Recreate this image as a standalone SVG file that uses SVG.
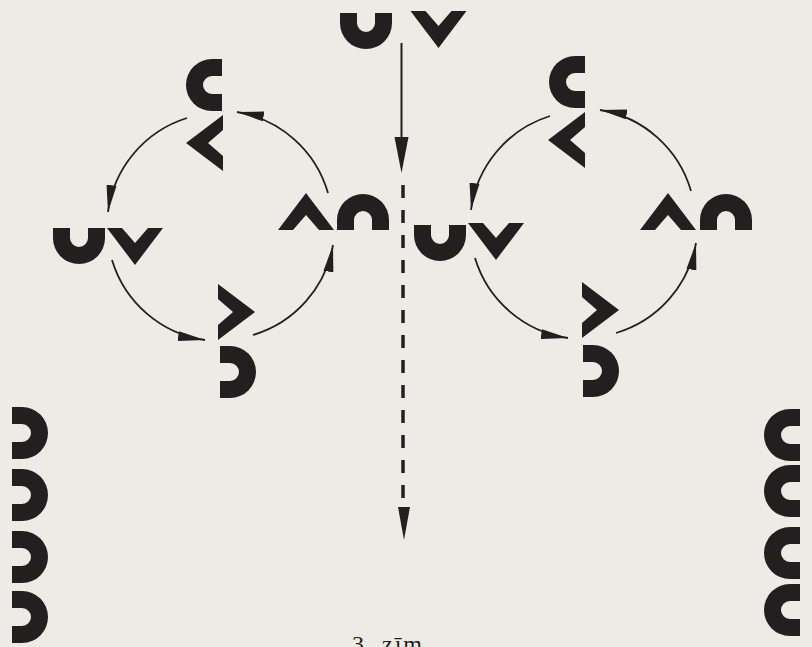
<svg xmlns="http://www.w3.org/2000/svg" width="812" height="647" viewBox="0 0 812 647">
<style>
.ink{fill:#231f20}
.arc{fill:none;stroke:#231f20;stroke-width:1.8}
.cap{font-family:"Liberation Serif","DejaVu Serif",serif;font-size:24px;fill:#231f20;letter-spacing:2px}
</style>
<defs>
<path id="u" d="M-26,-10 V0 A26,26 0 0 0 26,0 V-10 H9 V0 A9,9 0 0 1 -9,0 V-10 Z"/>
<path id="v" d="M-28,0 H-13 L0,15 L13,0 H28 L0,37 Z"/>
<marker id="ah" markerUnits="userSpaceOnUse" markerWidth="28" markerHeight="12" viewBox="0 -6 28 12" refX="27" refY="0" orient="auto">
<path d="M0,-5 L27,0 L0,5 Z" fill="#231f20"/>
</marker>
</defs>
<rect width="812" height="647" fill="#ecebe5"/>

<g id="top-u" class="ink"><use href="#u" transform="translate(366,23)"/></g>
<g id="top-v" class="ink"><use href="#v" transform="translate(438.5,11)"/></g>

<g id="l-left-u" class="ink"><use href="#u" transform="translate(79,238)"/></g>
<g id="l-left-v" class="ink"><use href="#v" transform="translate(135,228)"/></g>
<g id="l-top-c" class="ink"><use href="#u" transform="translate(212,85) rotate(90)"/></g>
<g id="l-top-lt" class="ink"><use href="#v" transform="translate(223,143) rotate(90)"/></g>
<g id="l-right-caret" class="ink"><use href="#v" transform="translate(306,230) rotate(180)"/></g>
<g id="l-right-n" class="ink"><use href="#u" transform="translate(363,220) rotate(180)"/></g>
<g id="l-bottom-gt" class="ink"><use href="#v" transform="translate(218,312) rotate(-90)"/></g>
<g id="l-bottom-d" class="ink"><use href="#u" transform="translate(230,372) rotate(-90)"/></g>

<g id="r-left-u" class="ink"><use href="#u" transform="translate(440,235)"/></g>
<g id="r-left-v" class="ink"><use href="#v" transform="translate(496,223)"/></g>
<g id="r-top-c" class="ink"><use href="#u" transform="translate(575,82) rotate(90)"/></g>
<g id="r-top-lt" class="ink"><use href="#v" transform="translate(585,140) rotate(90)"/></g>
<g id="r-right-caret" class="ink"><use href="#v" transform="translate(668,230) rotate(180)"/></g>
<g id="r-right-n" class="ink"><use href="#u" transform="translate(726,220) rotate(180)"/></g>
<g id="r-bottom-gt" class="ink"><use href="#v" transform="translate(582,310) rotate(-90)"/></g>
<g id="r-bottom-d" class="ink"><use href="#u" transform="translate(593,371) rotate(-90)"/></g>

<g id="left-column" class="ink">
<use href="#u" transform="translate(22,433) rotate(-90)"/>
<use href="#u" transform="translate(22,495) rotate(-90)"/>
<use href="#u" transform="translate(22,557) rotate(-90)"/>
<use href="#u" transform="translate(22,617) rotate(-90)"/>
</g>
<g id="right-column" class="ink">
<use href="#u" transform="translate(790,435) rotate(90)"/>
<use href="#u" transform="translate(790,491) rotate(90)"/>
<use href="#u" transform="translate(790,553) rotate(90)"/>
<use href="#u" transform="translate(790,610) rotate(90)"/>
</g>

<g id="connectors">
<path class="arc" marker-end="url(#ah)" d="M187,118 A114,114 0 0 0 108,212"/>
<path class="arc" marker-end="url(#ah)" d="M112,260 A114,114 0 0 0 205,340"/>
<path class="arc" marker-end="url(#ah)" d="M253,335 A114,114 0 0 0 333,245"/>
<path class="arc" marker-end="url(#ah)" d="M328,193 A114,114 0 0 0 237,112"/>
<path class="arc" marker-end="url(#ah)" d="M550,116 A114,114 0 0 0 471,210"/>
<path class="arc" marker-end="url(#ah)" d="M475,258 A114,114 0 0 0 568,338"/>
<path class="arc" marker-end="url(#ah)" d="M616,333 A114,114 0 0 0 696,243"/>
<path class="arc" marker-end="url(#ah)" d="M691,191 A114,114 0 0 0 600,110"/>
<line x1="401.5" y1="43" x2="401.5" y2="140" stroke="#231f20" stroke-width="2"/>
<path class="ink" d="M394.5,137 L408.5,137 L401.5,173 Z"/>
<line x1="403" y1="185" x2="403" y2="498" stroke="#231f20" stroke-width="3.5" stroke-dasharray="13 12"/>
<path class="ink" d="M398,507 L410,507 L404,540 Z"/>
</g>

<text class="cap" x="352" y="652">3. zīm.</text>
</svg>
